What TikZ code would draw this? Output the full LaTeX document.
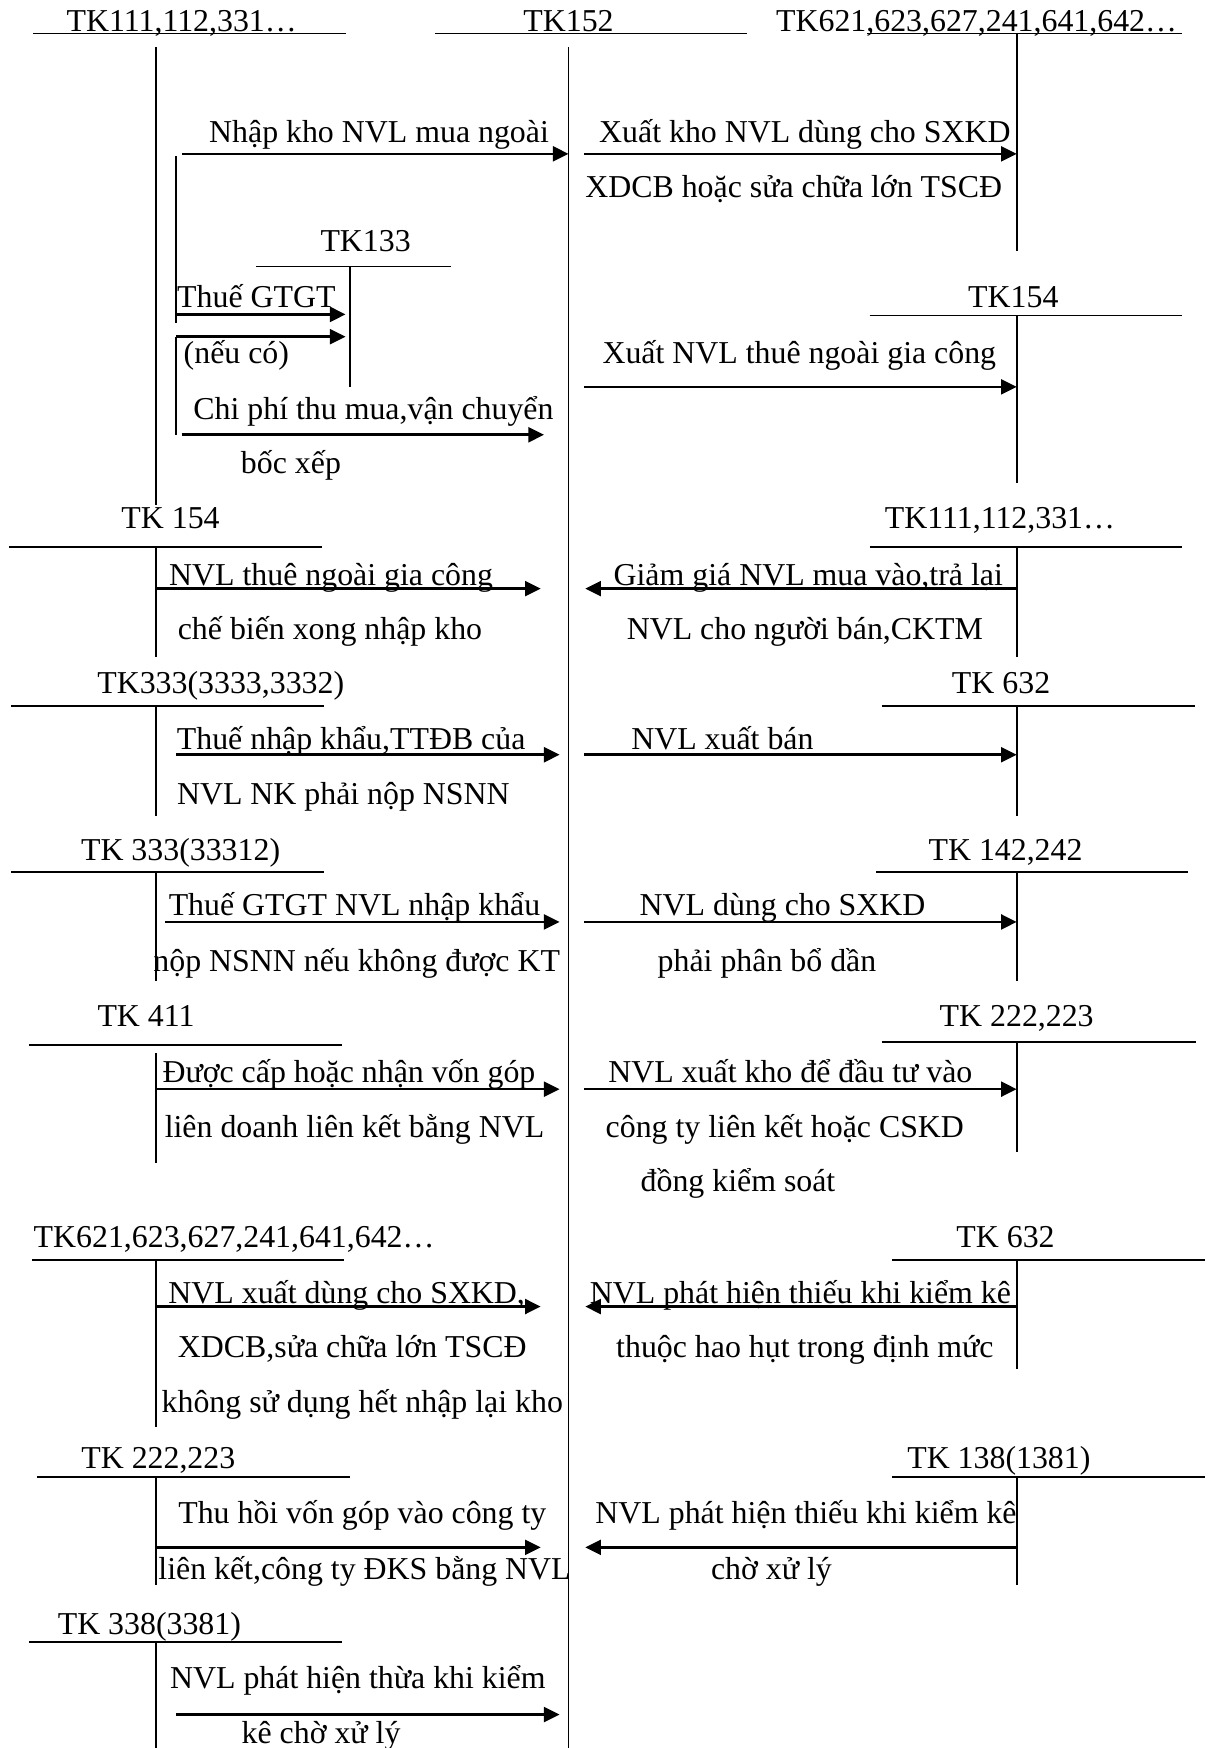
\documentclass[tikz,border=0pt]{standalone}
\usepackage{fontspec}
\setmainfont{Liberation Serif}
\usetikzlibrary{arrows.meta}

\begin{document}
\begin{tikzpicture}[x=0.42pt, y=-0.42pt, >={Triangle[length=5.9pt, width=5.6pt]},
        tline/.style={line width=0.7pt},
        arr/.style={->, line width=1pt},
        txt/.style={anchor=base, inner sep=0pt, font=\fontsize{12}{14}\selectfont}]
    \useasboundingbox (0,0) rectangle (1086,1568);

    % Tài khoản 152 ở giữa
    \node[txt] (tk152) at (510,28) {TK152};
    \draw[tline] (390,30) -- (670,30);
    \draw[tline] (510,42) -- (510,1568);

    % Các tài khoản chữ T bên trái
    \node[txt] (tk111a) at (163,28) {TK111,112,331…};
    \draw[tline] (30,30) -- (310,30);
    \draw[tline] (140,42) -- (140,453);

    \node[txt] (tk133) at (328,226) {TK133};
    \draw[tline] (230,239) -- (405,239);
    \draw[tline] (314,239) -- (314,347);
    \draw[tline] (158,140) -- (158,290);
    \draw[tline] (158,302) -- (158,390);

    \node[txt] (tk154a) at (153,474) {TK 154};
    \draw[tline] (8,491) -- (289,491);
    \draw[tline] (140,491) -- (140,589);

    \node[txt] (tk333a) at (198,622) {TK333(3333,3332)};
    \draw[tline] (10,633) -- (291,633);
    \draw[tline] (140,633) -- (140,732);

    \node[txt] (tk333b) at (162,772) {TK 333(33312)};
    \draw[tline] (10,782) -- (291,782);
    \draw[tline] (140,782) -- (140,880);

    \node[txt] (tk411) at (131,921) {TK 411};
    \draw[tline] (26,937) -- (307,937);
    \draw[tline] (140,945) -- (140,1043);

    \node[txt] (tk621b) at (210,1119) {TK621,623,627,241,641,642…};
    \draw[tline] (29,1130) -- (309,1130);
    \draw[tline] (140,1130) -- (140,1280);

    \node[txt] (tk222a) at (142,1317) {TK 222,223};
    \draw[tline] (33,1325) -- (314,1325);
    \draw[tline] (140,1325) -- (140,1422);

    \node[txt] (tk338) at (134,1466) {TK 338(3381)};
    \draw[tline] (26,1473) -- (307,1473);
    \draw[tline] (140,1473) -- (140,1568);

    % Các tài khoản chữ T bên phải
    \node[txt] (tk621a) at (876,28) {TK621,623,627,241,641,642…};
    \draw[tline] (778,30) -- (1060,30);
    \draw[tline] (912,30) -- (912,225);

    \node[txt] (tk154b) at (909,276) {TK154};
    \draw[tline] (780,283) -- (1060,283);
    \draw[tline] (912,283) -- (912,433);

    \node[txt] (tk111b) at (897,474) {TK111,112,331…};
    \draw[tline] (780,491) -- (1060,491);
    \draw[tline] (912,491) -- (912,589);

    \node[txt] (tk632a) at (898,622) {TK 632};
    \draw[tline] (791,633) -- (1072,633);
    \draw[tline] (912,633) -- (912,732);

    \node[txt] (tk142) at (902,772) {TK 142,242};
    \draw[tline] (786,782) -- (1066,782);
    \draw[tline] (912,782) -- (912,880);

    \node[txt] (tk222b) at (912,921) {TK 222,223};
    \draw[tline] (791,935) -- (1073,935);
    \draw[tline] (912,935) -- (912,1033);

    \node[txt] (tk632b) at (902,1119) {TK 632};
    \draw[tline] (800,1130) -- (1081,1130);
    \draw[tline] (912,1130) -- (912,1228);

    \node[txt] (tk138) at (896,1317) {TK 138(1381)};
    \draw[tline] (800,1325) -- (1081,1325);
    \draw[tline] (912,1325) -- (912,1422);

    % Điểm đầu, điểm cuối các mũi tên
    \coordinate (a1) at (163,138);  \coordinate (b1) at (510,138);
    \coordinate (a2) at (524,138);  \coordinate (b2) at (912,138);
    \coordinate (a3) at (158,282);  \coordinate (b3) at (310,282);
    \coordinate (a4) at (158,302);  \coordinate (b4) at (310,302);
    \coordinate (a5) at (163,390);  \coordinate (b5) at (488,390);
    \coordinate (a6) at (524,347);  \coordinate (b6) at (912,347);
    \coordinate (a7) at (140,528);  \coordinate (b7) at (485,528);
    \coordinate (a8) at (912,528);  \coordinate (b8) at (525,528);
    \coordinate (a9) at (158,677);  \coordinate (b9) at (502,677);
    \coordinate (a10) at (524,677); \coordinate (b10) at (912,677);
    \coordinate (a11) at (148,827); \coordinate (b11) at (502,827);
    \coordinate (a12) at (524,827); \coordinate (b12) at (912,827);
    \coordinate (a13) at (140,977); \coordinate (b13) at (502,977);
    \coordinate (a14) at (524,977); \coordinate (b14) at (912,977);
    \coordinate (a15) at (140,1172); \coordinate (b15) at (485,1172);
    \coordinate (a16) at (912,1172); \coordinate (b16) at (525,1172);
    \coordinate (a17) at (140,1388); \coordinate (b17) at (485,1388);
    \coordinate (a18) at (912,1388); \coordinate (b18) at (525,1388);
    \coordinate (a19) at (158,1538); \coordinate (b19) at (502,1538);

    \draw[arr] (a1) -- (b1);
    \draw[arr] (a2) -- (b2);
    \draw[arr] (a3) -- (b3);
    \draw[arr] (a4) -- (b4);
    \draw[arr] (a5) -- (b5);
    \draw[arr] (a6) -- (b6);
    \draw[arr] (a7) -- (b7);
    \draw[arr] (a8) -- (b8);
    \draw[arr] (a9) -- (b9);
    \draw[arr] (a10) -- (b10);
    \draw[arr] (a11) -- (b11);
    \draw[arr] (a12) -- (b12);
    \draw[arr] (a13) -- (b13);
    \draw[arr] (a14) -- (b14);
    \draw[arr] (a15) -- (b15);
    \draw[arr] (a16) -- (b16);
    \draw[arr] (a17) -- (b17);
    \draw[arr] (a18) -- (b18);
    \draw[arr] (a19) -- (b19);

    % Nội dung nghiệp vụ
    \node[txt] (n1) at (340,128) {Nhập kho NVL mua ngoài};
    \node[txt] (n2) at (722,128) {Xuất kho NVL dùng cho SXKD};
    \node[txt] (n3) at (712,177) {XDCB hoặc sửa chữa lớn TSCĐ};
    \node[txt] (n4) at (230,276) {Thuế GTGT};
    \node[txt] (n5) at (212,326) {(nếu có)};
    \node[txt] (n6) at (335,376) {Chi phí thu mua,vận chuyển};
    \node[txt] (n7) at (261,425) {bốc xếp};
    \node[txt] (n8) at (717,326) {Xuất NVL thuê ngoài gia công};
    \node[txt] (n9) at (297,525) {NVL thuê ngoài gia công};
    \node[txt] (n10) at (296,574) {chế biến xong nhập kho};
    \node[txt] (n11) at (725,525) {Giảm giá NVL mua vào,trả lại};
    \node[txt] (n12) at (722,574) {NVL cho người bán,CKTM};
    \node[txt] (n13) at (315,672) {Thuế nhập khẩu,TTĐB của};
    \node[txt] (n14) at (308,722) {NVL NK phải nộp NSNN};
    \node[txt] (n15) at (648,672) {NVL xuất bán};
    \node[txt] (n16) at (318,821) {Thuế GTGT NVL nhập khẩu};
    \node[txt] (n17) at (320,871) {nộp NSNN nếu không được KT};
    \node[txt] (n18) at (702,821) {NVL dùng cho SXKD};
    \node[txt] (n19) at (688,871) {phải phân bổ dần};
    \node[txt] (n20) at (313,971) {Được cấp hoặc nhận vốn góp};
    \node[txt] (n21) at (318,1020) {liên doanh liên kết bằng NVL};
    \node[txt] (n22) at (709,971) {NVL xuất kho để đầu tư vào};
    \node[txt] (n23) at (704,1020) {công ty liên kết hoặc CSKD};
    \node[txt] (n24) at (662,1069) {đồng kiểm soát};
    \node[txt] (n25) at (311,1169) {NVL xuất dùng cho SXKD,};
    \node[txt] (n26) at (316,1218) {XDCB,sửa chữa lớn TSCĐ};
    \node[txt] (n27) at (325,1267) {không sử dụng hết nhập lại kho};
    \node[txt] (n28) at (718,1169) {NVL phát hiện thiếu khi kiểm kê};
    \node[txt] (n29) at (722,1218) {thuộc hao hụt trong định mức};
    \node[txt] (n30) at (325,1367) {Thu hồi vốn góp vào công ty};
    \node[txt] (n31) at (327,1417) {liên kết,công ty ĐKS bằng NVL};
    \node[txt] (n32) at (723,1367) {NVL phát hiện thiếu khi kiểm kê};
    \node[txt] (n33) at (692,1417) {chờ xử lý};
    \node[txt] (n34) at (321,1515) {NVL phát hiện thừa khi kiểm};
    \node[txt] (n35) at (288,1564) {kê chờ xử lý};
\end{tikzpicture}
\end{document}
